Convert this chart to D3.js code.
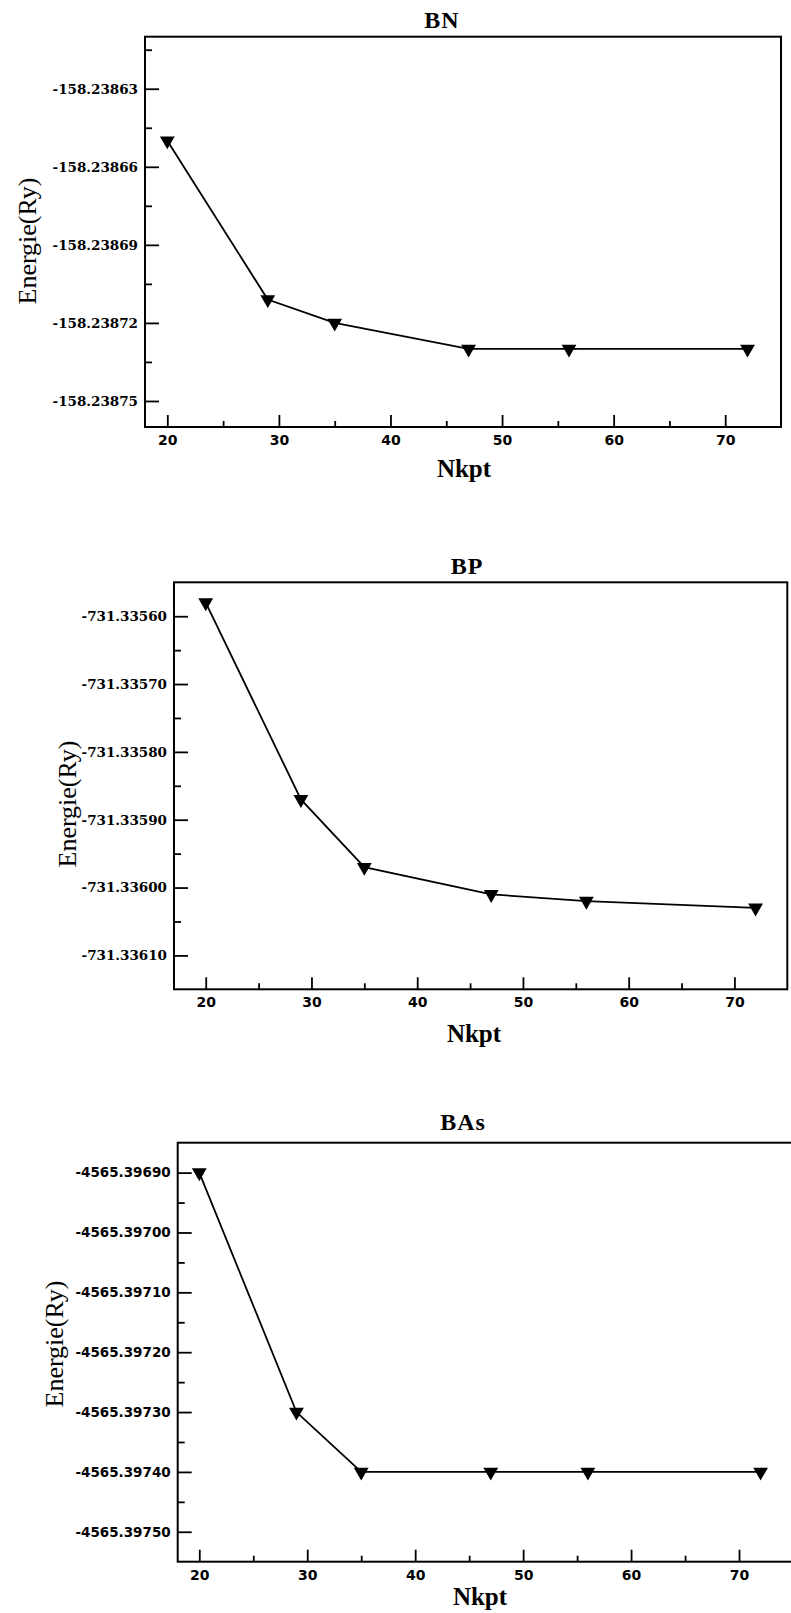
<!DOCTYPE html>
<html>
  <head>
    <meta charset="UTF-8" />
    <title>Energie vs Nkpt</title>
    <style>
      body { margin: 0; background: #fff; }
      svg { display: block; }
    </style>
  </head>
  <body>
    <svg></svg>
    <script src="https://d3js.org/d3.v7.min.js"></script>
    <script>
      // values
      var nkpt = [20, 29, 35, 47, 56, 72];
      var energieBN = [-158.23865, -158.238711, -158.23872, -158.23873, -158.23873, -158.23873];
      var energieBP = [-731.33558, -731.33587, -731.33597, -731.33601, -731.33602, -731.33603];
      var energieBAs = [-4565.3969, -4565.3973, -4565.3974, -4565.3974, -4565.3974, -4565.3974];

      var xTicks = [20, 30, 40, 50, 60, 70];
      var xMinorTicks = [25, 35, 45, 55, 65];
      var bnTicks = [-158.23863, -158.23866, -158.23869, -158.23872, -158.23875];
      var bpTicks = [-731.3356, -731.3357, -731.3358, -731.3359, -731.336, -731.3361];
      var basTicks = [-4565.3969, -4565.397, -4565.3971, -4565.3972, -4565.3973, -4565.3974, -4565.3975];

      var titles = ["BN", "BP", "BAs"];
      var xDomains = [[18, 75], [17, 75], [18, 75]];
      var yDomains = [
        [-158.23876, -158.23861],
        [-731.33615, -731.33555],
        [-4565.39755, -4565.39685],
      ];

      // layout of each panel on the page
      var layout = [
        { left: 145, top: 36.7, right: 781, bottom: 427, titleX: 442, titleY: 28, labelX: 27, labelY: 241, nkptX: 464, nkptY: 477, tickFont: "DejaVu Serif" },
        { left: 174, top: 582.3, right: 787.3, bottom: 989.3, titleX: 467, titleY: 574, labelX: 67, labelY: 804, nkptX: 474, nkptY: 1042, tickFont: "DejaVu Serif" },
        { left: 177.7, top: 1142.7, right: 793, bottom: 1561.7, titleX: 463, titleY: 1130, labelX: 54, labelY: 1344, nkptX: 480, nkptY: 1605, tickFont: "DejaVu Sans" },
      ];
      var series = [energieBN, energieBP, energieBAs];
      var yTickSets = [bnTicks, bpTicks, basTicks];

      var width = 791, height = 1613;
      var svg = d3.select("svg").attr("width", width).attr("height", height);

      function minorOf(ticks, domain) {
        var step = ticks[1] - ticks[0];
        var lo = Math.min(domain[0], domain[1]), hi = Math.max(domain[0], domain[1]);
        var out = ticks.map(function (t) { return t + step / 2; });
        out.push(ticks[0] - step / 2);
        return out.filter(function (v) { return v > lo && v < hi; });
      }

      layout.forEach(function (p, i) {
        var x = d3.scaleLinear().domain(xDomains[i]).range([p.left, p.right]);
        var y = d3.scaleLinear().domain(yDomains[i]).range([p.bottom, p.top]);
        var g = svg.append("g");

        // minor ticks
        g.append("g")
          .attr("transform", "translate(0," + p.bottom + ")")
          .call(d3.axisBottom(x).tickValues(xMinorTicks.filter(function (v) { return v < xDomains[i][1]; })).tickSize(-6).tickFormat(""))
          .call(function (a) { a.select(".domain").remove(); a.selectAll("line").attr("stroke-width", 1.8); });
        g.append("g")
          .attr("transform", "translate(" + p.left + ",0)")
          .call(d3.axisLeft(y).tickValues(minorOf(yTickSets[i], yDomains[i])).tickSize(-7).tickFormat(""))
          .call(function (a) { a.select(".domain").remove(); a.selectAll("line").attr("stroke-width", 1.8); });

        // major ticks
        g.append("g")
          .attr("transform", "translate(0," + p.bottom + ")")
          .call(d3.axisBottom(x).tickValues(xTicks).tickSize(-12).tickPadding(8))
          .call(function (a) {
            a.select(".domain").remove();
            a.selectAll("line").attr("stroke-width", 1.8);
            a.selectAll("text")
              .attr("font-family", "'DejaVu Sans', sans-serif")
              .attr("font-weight", "bold")
              .attr("font-size", "14px")
              .attr("fill", "#000");
          });
        g.append("g")
          .attr("transform", "translate(" + p.left + ",0)")
          .call(d3.axisLeft(y).tickValues(yTickSets[i]).tickSize(-14).tickPadding(7)
            .tickFormat(function (d) { return d.toFixed(5); }))
          .call(function (a) {
            a.select(".domain").remove();
            a.selectAll("line").attr("stroke-width", 1.8);
            a.selectAll("text")
              .attr("font-family", "'" + p.tickFont + "', serif")
              .attr("font-weight", "bold")
              .attr("font-size", "13.5px")
              .attr("fill", "#000");
          });

        // frame
        g.append("rect")
          .attr("x", p.left)
          .attr("y", p.top)
          .attr("width", p.right - p.left)
          .attr("height", p.bottom - p.top)
          .attr("fill", "none")
          .attr("stroke", "#000")
          .attr("stroke-width", 2);

        var pts = nkpt.map(function (n, j) { return [n, series[i][j]]; });

        var line = d3.line()
          .x(function (d) { return x(d[0]); })
          .y(function (d) { return y(d[1]); });

        g.append("path")
          .datum(pts)
          .attr("d", line)
          .attr("fill", "none")
          .attr("stroke", "#000")
          .attr("stroke-width", 1.8);

        g.selectAll(".marker")
          .data(pts)
          .enter()
          .append("path")
          .attr("class", "marker")
          .attr("d", d3.symbol(d3.symbolTriangle, 95))
          .attr("transform", function (d) {
            return "translate(" + x(d[0]) + "," + y(d[1]) + ") rotate(180)";
          })
          .attr("fill", "#000");

        // titles
        g.append("text")
          .attr("x", p.titleX)
          .attr("y", p.titleY)
          .attr("text-anchor", "middle")
          .attr("font-family", "'Liberation Serif', serif")
          .attr("font-weight", "bold")
          .attr("font-size", "24px")
          .attr("letter-spacing", "1px")
          .text(titles[i]);

        g.append("text")
          .attr("x", p.nkptX)
          .attr("y", p.nkptY)
          .attr("text-anchor", "middle")
          .attr("font-family", "'Liberation Serif', serif")
          .attr("font-weight", "bold")
          .attr("font-size", "25px")
          .text("Nkpt");

        g.append("text")
          .attr("transform", "translate(" + p.labelX + "," + p.labelY + ") rotate(-90)")
          .attr("text-anchor", "middle")
          .attr("dominant-baseline", "central")
          .attr("font-family", "'Liberation Serif', serif")
          .attr("font-size", "26px")
          .text("Energie(Ry)");
      });
    </script>
  </body>
</html>
